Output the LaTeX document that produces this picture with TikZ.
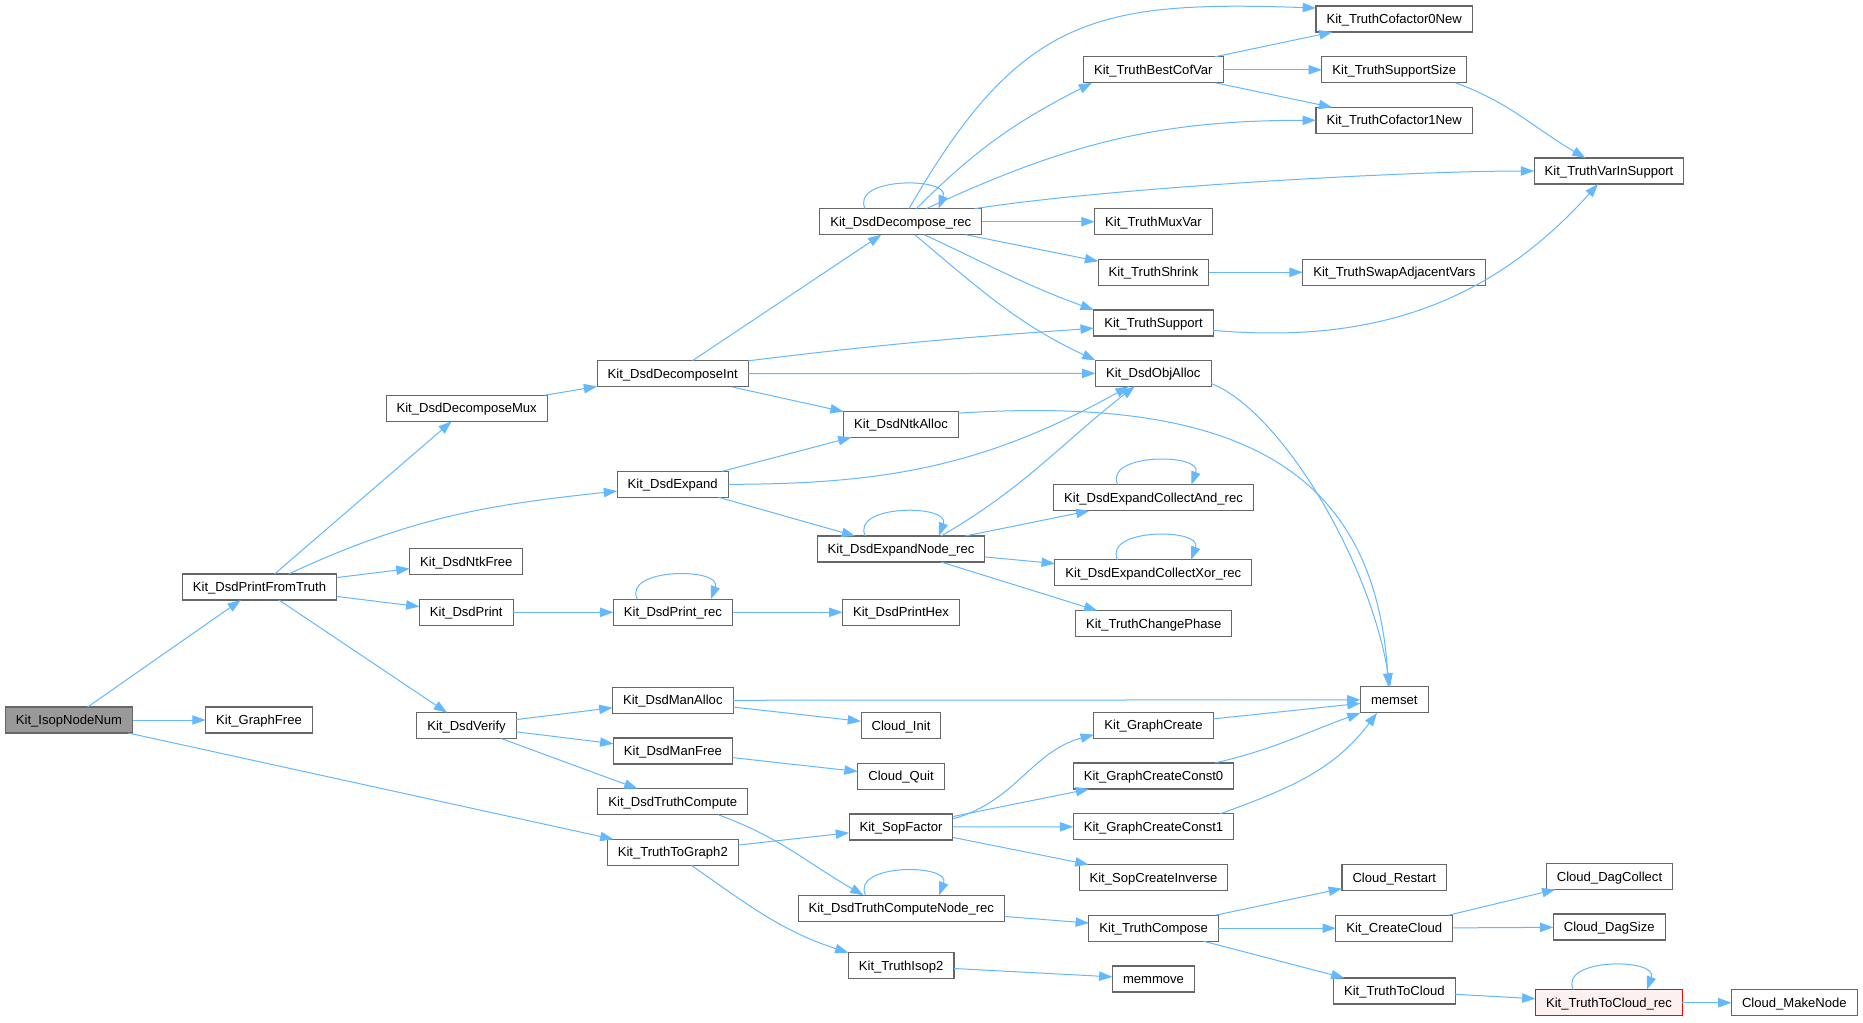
\documentclass[tikz,border=0pt]{standalone}
\usepackage{fontspec}
\usepackage{tikz}
\usetikzlibrary{arrows.meta}
\newfontfamily\dxfont{Liberation Sans}
\definecolor{callblue}{HTML}{63B8FF}
\definecolor{nodegray}{HTML}{666666}
\definecolor{rootgray}{HTML}{999999}
\definecolor{recpink}{HTML}{FFF0F0}
\tikzset{
  fn/.style={rectangle, draw=nodegray, fill=white, line width=0.8pt,
    minimum height=19.5pt, inner xsep=7.9pt, inner ysep=0pt, outer sep=0pt,
    text height=7pt, text depth=0pt, font={\dxfont\fontsize{9.8pt}{11pt}\selectfont}},
  rootfn/.style={fn, fill=rootgray},
  recfn/.style={fn, draw=red, fill=recpink},
  call/.style={-{Triangle[length=10pt,width=7pt]}, draw=callblue, line width=0.75pt},
}

\begin{document}
\begin{tikzpicture}[x=0.75pt, y=0.75pt]
  \path[use as bounding box, fill=white] (0,0) rectangle (1863,-1022);

  % callers, left to right
  \node[rootfn] (isop) at (69,-720) {Kit\_IsopNodeNum};
  \node[fn] (graphfree) at (259,-720) {Kit\_GraphFree};
  \node[fn] (pft) at (259.5,-587) {Kit\_DsdPrintFromTruth};
  \node[fn] (decmux) at (466.7,-408.3) {Kit\_DsdDecomposeMux};
  \node[fn] (ntkfree) at (466.3,-561.7) {Kit\_DsdNtkFree};
  \node[fn] (dsdprint) at (466.3,-612.3) {Kit\_DsdPrint};
  \node[fn] (verify) at (466.5,-725.7) {Kit\_DsdVerify};
  \node[fn] (decint) at (672.7,-373.8) {Kit\_DsdDecomposeInt};
  \node[fn] (expand) at (672.7,-484.3) {Kit\_DsdExpand};
  \node[fn] (printrec) at (673,-612.3) {Kit\_DsdPrint\_rec};
  \node[fn] (manalloc) at (672.8,-700.3) {Kit\_DsdManAlloc};
  \node[fn] (manfree) at (673,-751) {Kit\_DsdManFree};
  \node[fn] (truthcompute) at (672.8,-801.7) {Kit\_DsdTruthCompute};
  \node[fn] (tographtwo) at (672.8,-852.3) {Kit\_TruthToGraph2};
  \node[fn] (decrec) at (900.8,-221.7) {Kit\_DsdDecompose\_rec};
  \node[fn] (ntkalloc) at (901,-424.3) {Kit\_DsdNtkAlloc};
  \node[fn] (expandnoderec) at (901,-549) {Kit\_DsdExpandNode\_rec};
  \node[fn] (printhex) at (901,-612.3) {Kit\_DsdPrintHex};
  \node[fn] (cloudinit) at (901,-725.7) {Cloud\_Init};
  \node[fn] (cloudquit) at (901,-776.3) {Cloud\_Quit};
  \node[fn] (sopfactor) at (901,-827) {Kit\_SopFactor};
  \node[fn] (computenoderec) at (901.3,-908.3) {Kit\_DsdTruthComputeNode\_rec};
  \node[fn] (isoptwo) at (901.2,-965.7) {Kit\_TruthIsop2};
  \node[fn] (bestcofvar) at (1153.3,-69.8) {Kit\_TruthBestCofVar};
  \node[fn] (muxvar) at (1153.5,-221.7) {Kit\_TruthMuxVar};
  \node[fn] (shrink) at (1153.5,-272.3) {Kit\_TruthShrink};
  \node[fn] (support) at (1153.5,-323) {Kit\_TruthSupport};
  \node[fn] (objalloc) at (1153.3,-373.3) {Kit\_DsdObjAlloc};
  \node[fn] (collectand) at (1153.5,-497.8) {Kit\_DsdExpandCollectAnd\_rec};
  \node[fn] (collectxor) at (1153.3,-572.8) {Kit\_DsdExpandCollectXor\_rec};
  \node[fn] (changephase) at (1153.7,-623.6) {Kit\_TruthChangePhase};
  \node[fn] (graphcreate) at (1153.5,-725.2) {Kit\_GraphCreate};
  \node[fn] (const0) at (1153.5,-776) {Kit\_GraphCreateConst0};
  \node[fn] (const1) at (1153.5,-826.7) {Kit\_GraphCreateConst1};
  \node[fn] (sopinverse) at (1153.5,-877.5) {Kit\_SopCreateInverse};
  \node[fn] (compose) at (1153.7,-928.2) {Kit\_TruthCompose};
  \node[fn] (memmove) at (1153.5,-979) {memmove};
  \node[fn] (cof0) at (1394.2,-19) {Kit\_TruthCofactor0New};
  \node[fn] (supportsize) at (1394.3,-69.8) {Kit\_TruthSupportSize};
  \node[fn] (cof1) at (1394.2,-120.3) {Kit\_TruthCofactor1New};
  \node[fn] (swapvars) at (1394.3,-272.3) {Kit\_TruthSwapAdjacentVars};
  \node[fn] (memset) at (1394.3,-699.8) {memset};
  \node[fn] (cloudrestart) at (1394.3,-877.5) {Cloud\_Restart};
  \node[fn] (createcloud) at (1394.3,-928.2) {Kit\_CreateCloud};
  \node[fn] (tocloud) at (1394.3,-991) {Kit\_TruthToCloud};
  \node[fn] (varinsupport) at (1609,-171) {Kit\_TruthVarInSupport};
  \node[fn] (dagcollect) at (1609.5,-876.5) {Cloud\_DagCollect};
  \node[fn] (dagsize) at (1609.2,-927) {Cloud\_DagSize};
  \node[recfn] (tocloudrec) at (1609,-1002.7) {Kit\_TruthToCloud\_rec};
  \node[fn] (makenode) at (1794.3,-1002.7) {Cloud\_MakeNode};

  % calls
  \draw[call] (isop) -- (pft);
  \draw[call] (isop) -- (graphfree);
  \draw[call] (isop) -- (tographtwo);
  \draw[call] (pft) -- (decmux);
  \draw[call] (pft.24) to[out=25,in=186] (expand.187);
  \draw[call] (pft) -- (ntkfree);
  \draw[call] (pft) -- (dsdprint);
  \draw[call] (pft) -- (verify);
  \draw[call] (decmux) -- (decint);
  \draw[call] (decint) -- (decrec);
  \draw[call] (decint.north east) to[out=7,in=184] (support.185);
  \draw[call] (decint) -- (objalloc);
  \draw[call] (decint) -- (ntkalloc);
  \draw[call] (expand) -- (ntkalloc);
  \draw[call] (expand.east) to[out=0,in=209] (objalloc.208);
  \draw[call] (expand) -- (expandnoderec);
  \draw[call] (dsdprint) -- (printrec);
  \draw[call] (verify) -- (manalloc);
  \draw[call] (verify) -- (manfree);
  \draw[call] (verify) -- (truthcompute);
  \draw[call] (tographtwo) -- (sopfactor);
  \draw[call] (tographtwo.-35) to[out=-35,in=162] (isoptwo.north west);
  \draw[call] (printrec.160) .. controls +(-15,32) and +(12,32) .. (printrec.19);
  \draw[call] (printrec) -- (printhex);
  \draw[call] (manalloc) -- (memset);
  \draw[call] (manalloc) -- (cloudinit);
  \draw[call] (manfree) -- (cloudquit);
  \draw[call] (truthcompute.-16) to[out=-20,in=150] (computenoderec.161);

  \draw[call] (decrec.160) .. controls +(-15,32) and +(12,32) .. (decrec.19);
  \draw[call] (decrec.58) to[out=60,in=178,looseness=1.25] (cof0.172);
  \draw[call] (decrec.40) to[out=45,in=207] (bestcofvar.192);
  \draw[call] (decrec.27) to[out=25,in=180] (cof1.west);
  \draw[call] (decrec.10) to[out=9,in=180,looseness=0.6] (varinsupport.west);
  \draw[call] (decrec) -- (muxvar);
  \draw[call] (decrec) -- (shrink);
  \draw[call] (decrec.-29) to[out=-25,in=160] (support.north west);
  \draw[call] (decrec.-43) to[out=-40,in=155] (objalloc.north west);
  \draw[call] (ntkalloc.11) .. controls (1240,-395) and (1375,-470) .. (memset.114);
  \draw[call] (expandnoderec.160) .. controls +(-15,32) and +(12,32) .. (expandnoderec.19);
  \draw[call] (expandnoderec.18) to[out=30,in=218] (objalloc.215);
  \draw[call] (expandnoderec) -- (collectand);
  \draw[call] (expandnoderec) -- (collectxor);
  \draw[call] (expandnoderec.-18) -- (changephase.167);
  \draw[call] (sopfactor.9) to[out=15,in=195] (graphcreate.189);
  \draw[call] (sopfactor) -- (const0);
  \draw[call] (sopfactor) -- (const1);
  \draw[call] (sopfactor) -- (sopinverse);
  \draw[call] (computenoderec.160) .. controls +(-15,32) and +(12,32) .. (computenoderec.19);
  \draw[call] (computenoderec) -- (compose);
  \draw[call] (isoptwo) -- (memmove);

  \draw[call] (bestcofvar) -- (cof0);
  \draw[call] (bestcofvar) -- (supportsize);
  \draw[call] (bestcofvar) -- (cof1);
  \draw[call] (shrink) -- (swapvars);
  \draw[call] (support.-7) to[out=-5,in=228] (varinsupport.230);
  \draw[call] (objalloc.-10) .. controls (1280,-410) and (1370,-560) .. (memset.108);
  \draw[call] (collectand.160) .. controls +(-15,32) and +(12,32) .. (collectand.19);
  \draw[call] (collectxor.160) .. controls +(-15,32) and +(12,32) .. (collectxor.19);
  \draw[call] (graphcreate) -- (memset);
  \draw[call] (const0.12) to[out=13,in=200] (memset.south west);
  \draw[call] (const1.11) to[out=20,in=233] (memset.217);
  \draw[call] (compose) -- (cloudrestart);
  \draw[call] (compose) -- (createcloud);
  \draw[call] (compose) -- (tocloud);
  \draw[call] (supportsize.-12) to[out=-20,in=150] (varinsupport.151);
  \draw[call] (createcloud) -- (dagcollect);
  \draw[call] (createcloud) -- (dagsize);
  \draw[call] (tocloud) -- (tocloudrec);
  \draw[call] (tocloudrec.160) .. controls +(-15,32) and +(12,32) .. (tocloudrec.19);
  \draw[call] (tocloudrec) -- (makenode);
\end{tikzpicture}
\end{document}
